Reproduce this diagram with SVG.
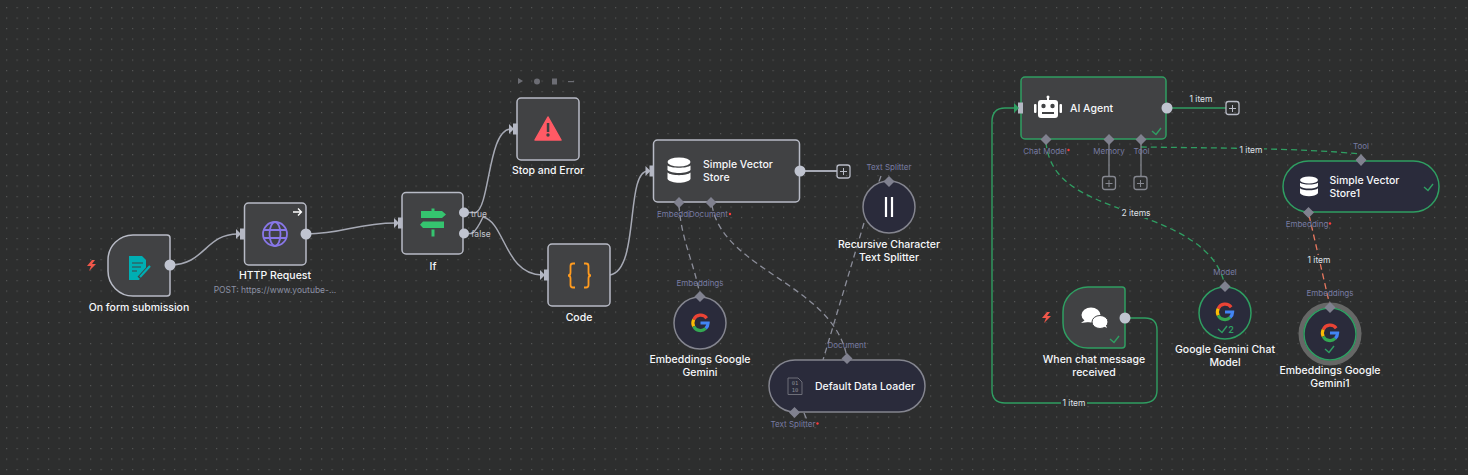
<svg xmlns="http://www.w3.org/2000/svg" width="1468" height="475" viewBox="0 0 1468 475">
<style>
text{font-family:Inter,"Liberation Sans",sans-serif}
.lbl{font-size:10.5px;font-weight:500;fill:#f6f7fa;text-anchor:middle}
.st{text-anchor:start}
.sub{font-size:8.5px;fill:#8b90a3;text-anchor:middle}
.port{font-size:8px;fill:#777ba2;text-anchor:middle}
.br{font-size:8.500px;fill:#c4c6ce;text-anchor:middle}
.item{font-size:8.500px;fill:#dfe1e6;text-anchor:middle}
.c{fill:none;stroke:#a6a9b4;stroke-width:1.5}
.d{fill:none;stroke:#8b8d99;stroke-width:1.3;stroke-dasharray:6 4}
.g{fill:none;stroke:#2f9e62;stroke-width:1.4}
.gd{fill:none;stroke:#2f9e62;stroke-width:1.3;stroke-dasharray:6 4}
.r{fill:none;stroke:#e8775f;stroke-width:1.3;stroke-dasharray:6 4}
.n{fill:#414244;stroke:#b8bbc6;stroke-width:1.5}
.ng{fill:#414244;stroke:#2f9e62;stroke-width:1.5}
.s{fill:#2a2b3b;stroke:#84858f;stroke-width:1.5}
.sg{fill:#2a2b3b;stroke:#2f9e62;stroke-width:1.5}
.o{fill:#c0c4d0}
.i{fill:#b4b7c3}
.dm{fill:#80818f}
.p{fill:none;stroke:#85878f;stroke-width:1.3}
.pt{fill:none;stroke:#b8bbc6;stroke-width:1.3}
.ck{fill:none;stroke:#2f9e62;stroke-width:1.4}
</style>
<defs>
<pattern id="dots" width="10.5" height="10.5" patternUnits="userSpaceOnUse" x="6" y="7"><rect width="1.2" height="1.2" fill="#535454"/></pattern>
<g id="gg" fill="none" stroke-width="3.2">
<path d="M6.2-4.8A7.6 7.6 0 0 0-6.800-3.400" stroke="#ea4335"/>
<path d="M-6.800-3.400A7.6 7.6 0 0 0-6.800 3.400" stroke="#fbbc05"/>
<path d="M-6.800 3.400A7.6 7.6 0 0 0 5.2 5.400" stroke="#34a853"/>
<path d="M5.2 5.400A7.6 7.6 0 0 0 7.6 0H0" stroke="#4285f4"/>
</g>
<g id="db" fill="#fff">
<ellipse cx="0" cy="-9" rx="11.500" ry="4.600"/>
<path d="M-11.500-5.500C-8-2.500 8-2.500 11.500-5.500V-1C8 3 -8 3 -11.500-1Z"/>
<path d="M-11.500 1.500C-8 5 8 5 11.500 1.500V8C8 13-8 13-11.500 8Z"/>
</g>
</defs>
<rect width="1468" height="475" fill="#2d2e2e"/>
<rect width="1468" height="475" fill="url(#dots)"/>

<g id="connectors">
<path class="c" d="M170 265C205 265 205 234 238 234"/>
<path class="c" d="M306 234C345 234 355 223 396 223"/>
<path class="c" d="M464 212.500H476C490 206 488 129 511 129"/>
<path class="c" d="M464 233.500H472Q477 230 483 217C505 222 505 275 542 275"/>
<path class="c" d="M610 275C640 270 625 171 648 171"/>
<path d="M799 171H837" fill="none" stroke="#a6a9b4" stroke-width="2"/>
<path class="d" d="M679 205C681 240 695 265 700 296"/>
<path class="d" d="M712 205C722 270 835 285 847 358"/>
<path class="d" d="M881 176L864 223L823 360"/>
<path class="d" d="M804 413L807 420"/>
<path class="g" d="M1166 108H1226"/>
<path class="g" d="M1015 108H1005Q992 108 992 122V390Q992 403 1005 403H1143Q1157 403 1157 390V330Q1157 318 1145 318H1125"/>
<path class="gd" d="M1046 142C1050 190 1100 200 1150 220C1190 235 1220 255 1225 287"/>
<path class="gd" d="M1141 147C1210 148 1300 148 1361 154"/>
<path class="r" d="M1309 215L1330 306"/>
<path class="p" d="M1109 142V176"/>
<path class="p" d="M1141 142V176"/>
</g>

<g id="on-form"><path class="n" d="M170 238V293Q170 296 167 296H133A25 25 0 0 1 108 271V260A25 25 0 0 1 133 235H167Q170 235 170 238Z"/>
<path fill="#f0574a" d="M92 260L87 266H91L89 271L96 264H92L95 260Z"/>
<path fill="#00aeb3" d="M129 256H142L146 260V270L139 280H129Z"/><path d="M132 263H143M132 267H141M132 271H137" stroke="#414244" stroke-width="1"/><path d="M139 278L150 266" stroke="#414244" stroke-width="4"/><path d="M140 277L150 266" stroke="#00aeb3" stroke-width="2.200"/>
<circle class="o" cx="170" cy="265" r="5.500"/><text class="lbl" x="139" y="311">On form submission</text></g>

<g id="http"><rect class="n" x="244.500" y="203" width="61.500" height="62" rx="4"/><rect class="i" x="240" y="228.500" width="4.500" height="11"/><path class="i" d="M236 229L241 234L236 239Z"/>
<g fill="none" stroke="#8877e8" stroke-width="1.800"><circle cx="275" cy="234" r="12"/><ellipse cx="275" cy="234" rx="5.500" ry="12"/><path d="M263.500 230H286.500M263.500 238H286.500"/></g>
<path d="M293 212H301M298 208.500L301.500 212L298 215.500" fill="none" stroke="#fff" stroke-width="1.300"/>
<circle class="o" cx="306" cy="234" r="5.500"/><text class="lbl" x="275" y="279">HTTP Request</text><text class="sub" x="275" y="293">POST: https://www.youtube-...</text></g>

<g id="if"><rect class="n" x="402" y="192.500" width="61" height="61.500" rx="4"/><rect class="i" x="398" y="217.500" width="4.500" height="11"/><path class="i" d="M394 218L399 223L394 228Z"/>
<path fill="#35c46f" d="M421 211H442L446 214.500L442 218H421ZM423 221.500H444V228H423L420 224.700ZM431.500 208.500H434.500V211H431.500ZM431.500 229.500H434.500V236.500H431.500Z"/>
<circle class="o" cx="464" cy="212.500" r="5"/><circle class="o" cx="464" cy="233.500" r="5"/>
<text class="lbl" x="433" y="270">If</text><text class="br" x="479" y="216.500">true</text><text class="br" x="481" y="237">false</text></g>

<g id="stop"><g fill="#6c6d74"><path d="M518 78L523 81L518 84Z"/><circle cx="537" cy="81.500" r="3"/><rect x="552" y="78.500" width="5" height="6"/><rect x="568" y="81" width="6" height="1.200"/></g>
<rect class="n" x="517" y="98" width="62" height="62" rx="4"/><rect class="i" x="513" y="123.500" width="4.500" height="11"/><path class="i" d="M509 124L514 129L509 134Z"/>
<path fill="#ff5a65" d="M548 117L561 140H535Z" stroke="#ff5a65" stroke-width="1.500" stroke-linejoin="round"/><rect x="546.800" y="123" width="2.500" height="9" fill="#3e3f42"/><circle cx="548" cy="135" r="1.700" fill="#3e3f42"/>
<text class="lbl" x="548" y="174">Stop and Error</text></g>

<g id="code"><rect class="n" x="548" y="244" width="62" height="62" rx="4"/><rect class="i" x="544" y="269.500" width="4.500" height="11"/><path class="i" d="M540 270L545 275L540 280Z"/>
<path d="M575 263.500H573Q570.500 263.500 570.500 266V272.500Q570.500 275.500 568 275.500Q570.500 275.500 570.500 278.500V285Q570.500 287.500 573 287.500H575M584 263.500H586Q588.500 263.500 588.500 266V272.500Q588.500 275.500 591 275.500Q588.500 275.500 588.500 278.500V285Q588.500 287.500 586 287.500H584" fill="none" stroke="#ff9b1f" stroke-width="1.800"/><text class="lbl" x="579" y="321">Code</text></g>

<g id="vector"><rect class="n" x="653.500" y="140" width="146" height="62" rx="4"/><rect class="i" x="649.500" y="165.500" width="4.500" height="11"/><path class="i" d="M645.500 166L650.500 171L645.500 176Z"/>
<use href="#db" x="679" y="171"/><text class="lbl st" x="703" y="168">Simple Vector</text><text class="lbl st" x="703" y="181">Store</text>
<circle class="o" cx="800" cy="171" r="5.500"/><rect class="pt" x="837" y="165" width="13" height="13" rx="2.500"/><path d="M843.500 168V175M840 171.500H847" stroke="#b8bbc6"/>
<path class="dm" d="M679 197L684.500 202.500L679 208L673.500 202.500ZM711 197L716.500 202.500L711 208L705.500 202.500Z"/>
<text class="port" x="673.500" y="217">Embeddi</text><text class="port" x="708.500" y="217">Document</text><circle cx="730" cy="214" r="1.200" fill="#ff3b3b"/></g>

<g id="emb"><circle class="s" cx="700" cy="323" r="26"/><path class="dm" d="M700 291L705.500 296.500L700 302L694.500 296.500Z"/><use href="#gg" x="700.500" y="323"/>
<text class="port" x="700" y="285.500">Embeddings</text><text class="lbl" x="700" y="363">Embeddings Google</text><text class="lbl" x="700" y="376">Gemini</text></g>

<g id="rec"><circle class="s" cx="889" cy="207" r="26"/><path class="dm" d="M889 176L894.500 181.500L889 187L883.500 181.500Z"/><path d="M886 197V217M892 197V217" stroke="#fff" stroke-width="2.200"/>
<text class="port" x="889" y="170">Text Splitter</text><text class="lbl" x="889" y="248">Recursive Character</text><text class="lbl" x="889" y="261">Text Splitter</text></g>

<g id="loader"><rect class="s" x="769" y="360" width="156" height="52" rx="26"/><path class="dm" d="M847 353L852.500 358.500L847 364L841.500 358.500ZM794.500 407L800 412.500L794.500 418L789 412.500Z"/>
<path fill="none" stroke="#6d6e78" stroke-width="1" d="M788 378H798L802 382V394.500H788Z"/><text x="795" y="385" font-size="5.500" fill="#8a8b95" text-anchor="middle" style="font-family:'DejaVu Sans Mono',monospace">01</text><text x="795" y="392" font-size="5.500" fill="#8a8b95" text-anchor="middle" style="font-family:'DejaVu Sans Mono',monospace">10</text>
<text class="lbl" x="865" y="390">Default Data Loader</text><text class="port" x="847" y="348">Document</text><text class="port" x="793" y="427">Text Splitter</text><circle cx="817.500" cy="423.500" r="1.200" fill="#ff3b3b"/></g>

<g id="agent"><rect class="ng" x="1021" y="77" width="145" height="62" rx="4"/><rect class="i" x="1018" y="102.500" width="5" height="11"/><path d="M1014 103L1019 108L1014 113Z" fill="#2f9e62"/>
<g fill="#fff"><rect x="1038" y="100" width="20" height="18" rx="3"/><rect x="1034" y="104" width="2.500" height="9" rx="1"/><rect x="1059.500" y="104" width="2.500" height="9" rx="1"/><rect x="1047" y="97" width="2" height="4"/><circle cx="1048" cy="97" r="1.500"/></g><circle cx="1043.500" cy="106" r="2.200" fill="#414244"/><circle cx="1052.500" cy="106" r="2.200" fill="#414244"/><rect x="1042" y="112" width="12" height="2" fill="#414244"/>
<text class="lbl st" x="1070" y="112">AI Agent</text><path class="ck" d="M1152 131L1156 134.500L1161 128"/>
<circle class="o" cx="1167" cy="108" r="5.500"/><text class="item" x="1201" y="102">1 item</text><rect class="pt" x="1226" y="101.500" width="13" height="13" rx="2.500"/><path d="M1232.500 105V112M1229 108.500H1236" stroke="#b8bbc6"/>
<path class="dm" d="M1046 134L1051.500 139.500L1046 145L1040.500 139.500ZM1109 134L1114.500 139.500L1109 145L1103.500 139.500ZM1141 134L1146.500 139.500L1141 145L1135.500 139.500Z"/>
<text class="port" x="1045" y="154">Chat Model</text><circle cx="1068.500" cy="150" r="1.200" fill="#ff3b3b"/><text class="port" x="1109" y="154">Memory</text><text class="port" x="1141.500" y="154">Tool</text>
<rect class="pt" x="1102.500" y="176.500" width="13" height="13" rx="2.500" style="stroke:#85878f"/><path d="M1109 180V187M1105.500 183.500H1112.500" stroke="#85878f"/><rect class="pt" x="1134" y="176.500" width="13" height="13" rx="2.500" style="stroke:#85878f"/><path d="M1140.500 180V187M1137 183.500H1144" stroke="#85878f"/></g>

<g id="trigger"><path class="ng" d="M1125 290V345Q1125 348 1122 348H1088A25 25 0 0 1 1063 323V312A25 25 0 0 1 1088 287H1122Q1125 287 1125 290Z"/>
<path fill="#f0574a" d="M1047 312L1042 318H1046L1044 323L1051 316H1047L1050 312Z"/>
<ellipse cx="1091" cy="315" rx="9.500" ry="7.500" fill="#fff"/><path d="M1085 320L1081 323L1089 322Z" fill="#fff"/><ellipse cx="1100" cy="322" rx="8" ry="6.500" fill="#fff" stroke="#414244"/><path d="M1103 326L1107 328L1105 323Z" fill="#fff"/>
<path class="ck" d="M1110 339L1114 342.500L1119 336"/><circle class="o" cx="1125" cy="318" r="5.500"/>
<text class="lbl" x="1094" y="363">When chat message</text><text class="lbl" x="1094" y="376">received</text><rect x="1061" y="399" width="26" height="8" fill="#2d2e2e"/><text class="item" x="1074" y="406">1 item</text></g>

<g id="gemini"><circle class="sg" cx="1225" cy="313" r="26"/><path class="dm" d="M1225 281L1230.500 286.500L1225 292L1219.500 286.500Z"/><use href="#gg" x="1225" y="312"/>
<path class="ck" d="M1218 329L1222 332.500L1227 326"/><text x="1231" y="333" font-size="9" fill="#2f9e62" font-weight="600" style="text-anchor:middle">2</text>
<text class="port" x="1225" y="275">Model</text><text class="lbl" x="1225" y="353">Google Gemini Chat</text><text class="lbl" x="1225" y="366">Model</text><rect x="1119" y="208" width="34" height="10" fill="#2d2e2e"/><text class="item" x="1136" y="216">2 items</text></g>

<g id="vector1"><rect class="sg" x="1283" y="161" width="156" height="51" rx="25.500"/><use href="#db" transform="translate(1309 187) scale(.78)"/>
<text class="lbl st" x="1329.500" y="184">Simple Vector</text><text class="lbl st" x="1329.500" y="197">Store1</text><path class="ck" d="M1424 187L1428 190.500L1433 184"/>
<path class="dm" d="M1361 154L1366.500 160L1361 166L1355.500 160ZM1308.500 207L1314 212.500L1308.500 218L1303 212.500Z"/>
<text class="port" x="1361" y="149">Tool</text><text class="port" x="1307" y="227">Embedding</text><circle cx="1330" cy="223.500" r="1.200" fill="#ff3b3b"/>
<rect x="1238" y="145" width="26" height="9" fill="#2d2e2e"/><text class="item" x="1251" y="153">1 item</text><rect x="1306" y="255" width="26" height="9" fill="#2d2e2e"/><text class="item" x="1319" y="263">1 item</text></g>

<g id="emb1"><circle cx="1330" cy="334" r="29" fill="none" stroke="#666766" stroke-width="5"/><circle class="sg" cx="1330" cy="334" r="26"/><path class="dm" d="M1330 302L1335.500 307.500L1330 313L1324.500 307.500Z"/><use href="#gg" x="1330" y="333"/>
<path class="ck" d="M1325 349L1329 352.500L1334 346"/><text class="port" x="1330" y="296">Embeddings</text><text class="lbl" x="1330" y="374">Embeddings Google</text><text class="lbl" x="1330" y="387">Gemini1</text></g>
</svg>
